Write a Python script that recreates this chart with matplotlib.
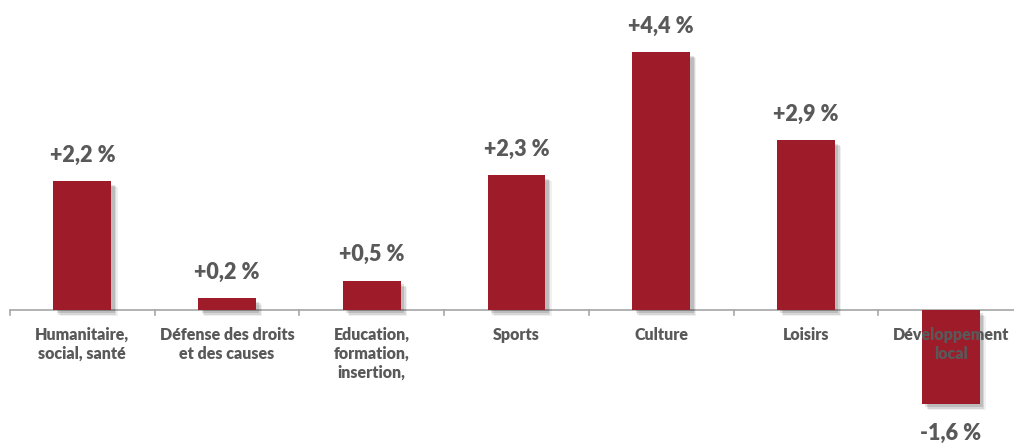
import matplotlib
matplotlib.use("Agg")
import matplotlib.pyplot as plt
import matplotlib.patheffects as pe

categories = ["Humanitaire,\nsocial, santé", "Défense des droits\net des causes",
              "Education,\nformation,\ninsertion,", "Sports", "Culture", "Loisirs",
              "Développement\nlocal"]
values = [2.2, 0.2, 0.5, 2.3, 4.4, 2.9, -1.6]
value_labels = ["+2,2 %", "+0,2 %", "+0,5 %", "+2,3 %", "+4,4 %", "+2,9 %", "-1,6 %"]

bar_color = "#9E1B2A"
text_color = "#595959"
axis_color = "#A6A6A6"

fig = plt.figure(figsize=(10.14, 4.43), dpi=100)
ax = fig.add_axes([10 / 1014, 0, 1013 / 1014, 1])
ax.set_xlim(-0.5, len(categories) - 0.5)
ax.set_ylim(-2.27, 5.29)
ax.axis("off")

x = list(range(len(categories)))
shadow = [pe.SimplePatchShadow(offset=(4.5, -4.5), shadow_rgbFace="#000000", alpha=0.06),
          pe.SimplePatchShadow(offset=(3.5, -3.5), shadow_rgbFace="#000000", alpha=0.10),
          pe.SimplePatchShadow(offset=(2.5, -2.5), shadow_rgbFace="#000000", alpha=0.12),
          pe.Normal()]
bars = ax.bar(x, values, width=0.40, color=bar_color, zorder=3)
for b in bars:
    b.set_path_effects(shadow)

# axis line and category boundary ticks
ax.axhline(0, color=axis_color, lw=1.2, zorder=2)
for i in range(len(categories) + 1):
    ax.plot([i - 0.5, i - 0.5], [0, -0.09], color=axis_color, lw=1.2, zorder=2, clip_on=False)

font = "Lato"
for xi, v, lab in zip(x, values, value_labels):
    if v >= 0:
        ax.annotate(lab, (xi, v), xytext=(0, 11), textcoords="offset points",
                    ha="center", va="bottom", fontsize=15.5, fontweight="heavy",
                    color=text_color, family=font, zorder=5)
    else:
        ax.annotate(lab, (xi, v), xytext=(0, -14), textcoords="offset points",
                    ha="center", va="top", fontsize=15.5, fontweight="heavy",
                    color=text_color, family=font, zorder=5)

for xi, cat in zip(x, categories):
    ax.annotate(cat, (xi, 0), xytext=(0, -12), textcoords="offset points",
                ha="center", va="top", fontsize=11.5, fontweight="heavy",
                color=text_color, family=font, linespacing=1.25, zorder=5)

fig.savefig("out.png", dpi=100)
